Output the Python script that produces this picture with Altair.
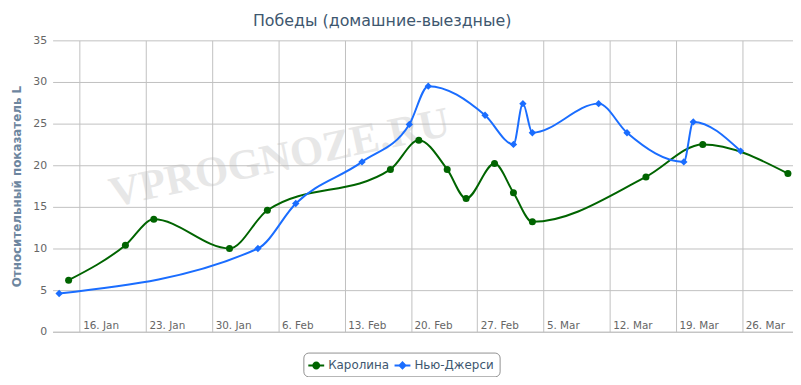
import altair as alt
import pandas as pd

# ---------------- data ----------------
series_names = ["Каролина", "Нью-Джерси"]
series_colors = ["#006400", "#1a6dff"]

carolina_dates = ["2012-01-15", "2012-01-21", "2012-01-24", "2012-02-01", "2012-02-05",
                  "2012-02-18", "2012-02-21", "2012-02-24", "2012-02-26", "2012-02-29",
                  "2012-03-02", "2012-03-04", "2012-03-16", "2012-03-22", "2012-03-31"]
carolina_values = [6.2, 10.4, 13.5, 10.0, 14.6, 19.5, 23.0, 19.5, 16.0, 20.2,
                   16.7, 13.2, 18.6, 22.5, 19.0]

nj_dates = ["2012-01-14", "2012-02-04", "2012-02-08", "2012-02-15", "2012-02-20",
            "2012-02-22", "2012-02-28", "2012-03-02", "2012-03-03", "2012-03-04",
            "2012-03-11", "2012-03-14", "2012-03-20", "2012-03-21", "2012-03-26"]
nj_values = [4.6, 10.0, 15.4, 20.4, 24.9, 29.5, 26.0, 22.5, 27.4, 23.9,
             27.4, 23.9, 20.4, 25.2, 21.7]

tick_dates = ["2012-01-16", "2012-01-23", "2012-01-30", "2012-02-06", "2012-02-13",
              "2012-02-20", "2012-02-27", "2012-03-05", "2012-03-12", "2012-03-19",
              "2012-03-26"]
y_ticks = [0, 5, 10, 15, 20, 25, 30, 35]

title_text = "Победы (домашние-выездные)"
y_title = "Относительный показатель L"
watermark_text = "VPROGNOZE.RU"

EPOCH = pd.Timestamp("1970-01-01")


def to_ms(ts):
    return int((ts - EPOCH) / pd.Timedelta(milliseconds=1))


def local_midnight_ms(d):
    # dates are Moscow-local midnights (UTC+4 in 2012)
    return to_ms(pd.Timestamp(d) - pd.Timedelta(hours=4))


rows = []
for d, v in zip(carolina_dates, carolina_values):
    rows.append({"t": local_midnight_ms(d), "v": v, "s": series_names[0]})
for d, v in zip(nj_dates, nj_values):
    rows.append({"t": local_midnight_ms(d), "v": v, "s": series_names[1]})
df = pd.DataFrame(rows)

tick_ms = [to_ms(pd.Timestamp(d)) for d in tick_dates]
x_domain = [to_ms(pd.Timestamp("2012-01-13T03:23:00")), to_ms(pd.Timestamp("2012-03-31T08:53:00"))]

FONT = "DejaVu Sans"

# ---------------- scales / axes ----------------
x_scale = alt.Scale(type="utc", domain=x_domain, nice=False)
y_scale = alt.Scale(domain=[0, 35], nice=False)
c_scale = alt.Scale(domain=series_names, range=series_colors)

circle_path = ("M -1 -0.125 L 1 -0.125 L 1 0.125 L -1 0.125 Z "
               "M -0.5 0 A 0.5 0.5 0 1 1 0.5 0 A 0.5 0.5 0 1 1 -0.5 0 Z")
diamond_path = ("M -1 -0.125 L 1 -0.125 L 1 0.125 L -1 0.125 Z "
                "M 0 -0.55 L 0.55 0 L 0 0.55 L -0.55 0 Z")
s_scale = alt.Scale(domain=series_names, range=[circle_path, diamond_path])

x_axis = alt.Axis(values=tick_ms, format="%-d. %b", grid=True, gridColor="#C0C0C0",
                  gridWidth=1, domain=True, domainColor="#C0C0C0", domainWidth=1,
                  ticks=False, labelAlign="left", labelBaseline="alphabetic",
                  labelPadding=-3, labelOffset=3, labelFont=FONT, labelFontSize=10.5,
                  labelColor="#666666", labelFlush=False, labelOverlap=False,
                  labelBound=False, title=None)
y_axis = alt.Axis(values=y_ticks, grid=True, gridColor="#C0C0C0", gridWidth=1,
                  domain=False, ticks=False, labelPadding=6, labelFont=FONT,
                  labelFontSize=11, labelColor="#666666", title=y_title,
                  titleFont=FONT, titleFontSize=12, titleFontWeight="bold",
                  titleColor="#6D869F", titleX=-36, titleY=147, titleAngle=270,
                  titleAlign="center", titleBaseline="middle")


def make_legend():
    return alt.Legend(title=None, orient="none", legendX=253, legendY=315,
                      direction="horizontal", strokeColor="#909090", cornerRadius=5,
                      fillColor="#ffffff", padding=5, labelFont=FONT, labelFontSize=12,
                      labelColor="#3E576F", labelOffset=4, columnPadding=5,
                      symbolSize=256, symbolStrokeWidth=0, symbolOpacity=1,
                      symbolType="circle")


legend_layer = alt.Chart(df).transform_filter("false").mark_point(
    filled=True, size=256, opacity=1
).encode(
    color=alt.Color("s:N", scale=c_scale, legend=make_legend()),
    shape=alt.Shape("s:N", scale=s_scale, legend=make_legend()),
)

base = alt.Chart(df).encode(
    x=alt.X("t:T", scale=x_scale, axis=x_axis),
    y=alt.Y("v:Q", scale=y_scale, axis=y_axis),
    color=alt.Color("s:N", scale=c_scale, legend=make_legend()),
)

watermark = alt.Chart(pd.DataFrame({"label": [watermark_text]})).mark_text(
    font="Liberation Serif", fontWeight="bold", fontSize=43, color="#bbbbbb",
    opacity=0.35, angle=348, align="center", baseline="middle"
).encode(text="label:N", x=alt.value(229), y=alt.value(119))

lines = base.mark_line(interpolate="monotone", strokeWidth=2)

pts_c = base.transform_filter(alt.datum.s == series_names[0]).mark_point(
    filled=True, shape="circle", size=50, opacity=1)
pts_n = base.transform_filter(alt.datum.s == series_names[1]).mark_point(
    filled=True, shape="diamond", size=55, opacity=1)

chart = alt.layer(legend_layer, watermark, lines, pts_c, pts_n).properties(
    width=747, height=294,
    autosize="none",
    padding={"left": 45, "top": 31, "right": 0, "bottom": 44},
    title=alt.TitleParams(text=title_text, font=FONT, fontSize=16, fontWeight="normal",
                          color="#3E576F", anchor="middle", dx=-41, dy=22, offset=14,
                          baseline="alphabetic"),
).configure_view(strokeWidth=0)

chart.save("out.html", embed_options={"renderer": "svg", "actions": False})
